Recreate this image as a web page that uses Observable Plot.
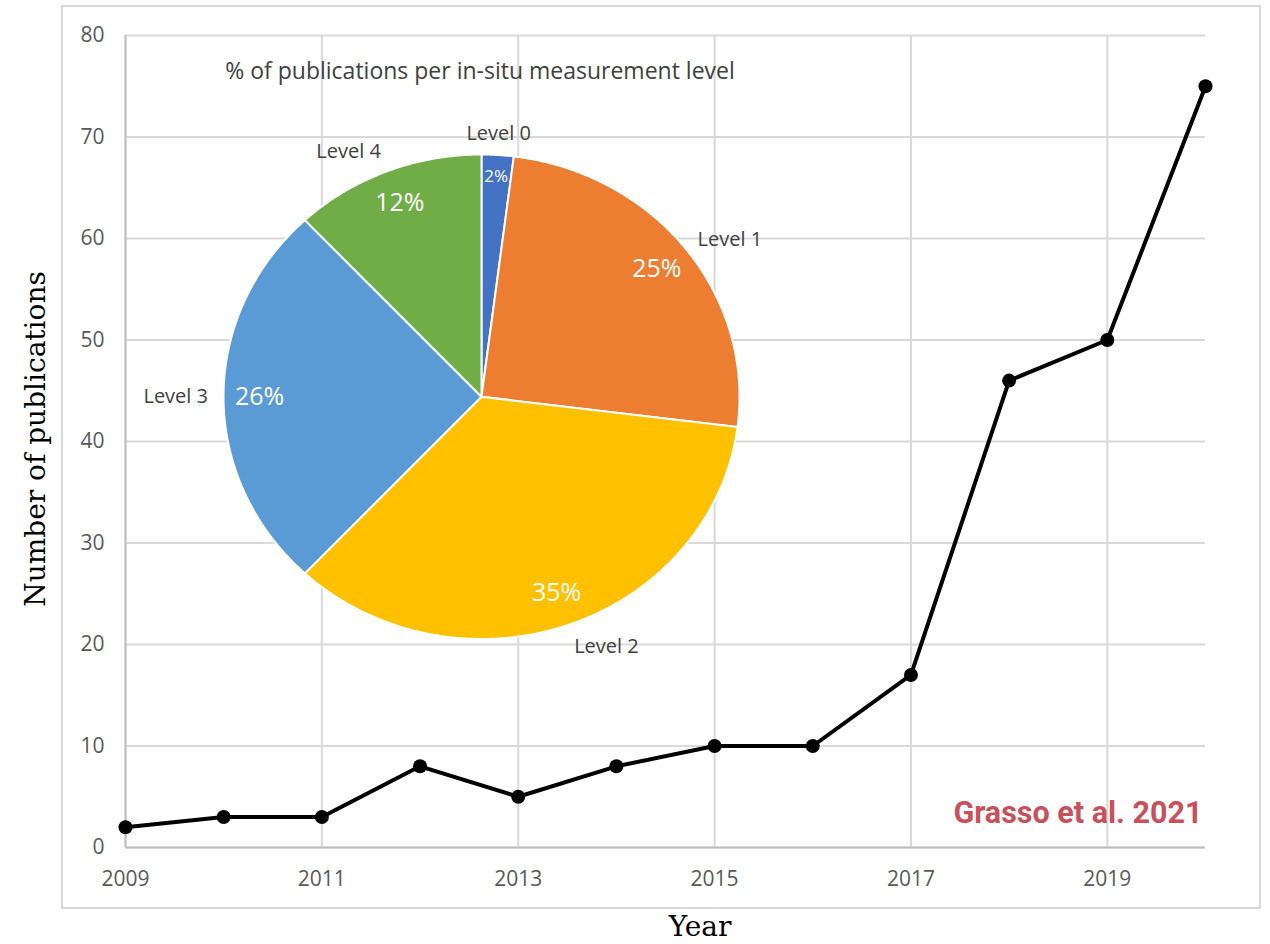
<!DOCTYPE html>
<html><head><meta charset="utf-8">
<script src="https://cdn.jsdelivr.net/npm/d3@7"></script>
<script src="https://cdn.jsdelivr.net/npm/@observablehq/plot@0.6"></script>
<style>
html,body{margin:0;padding:0;background:#fff;}
#wrap{position:relative;width:1270px;height:944px;overflow:hidden;background:#fff;}
#frame{position:absolute;left:61px;top:5px;width:1200px;height:904px;border:2px solid #d9d9d9;box-sizing:border-box;}
#wrap svg{position:absolute;left:0;top:0;}
.lbl{position:absolute;white-space:nowrap;}
#ytitle{left:35px;top:439px;line-height:1;transform:translate(-50%,-50%) rotate(-90deg);font:28px "DejaVu Serif",serif;color:#000;}
#xtitle{left:700px;top:910px;line-height:1;transform:translateX(-50%);font:28px "DejaVu Serif",serif;color:#000;}
#ptitle{left:480px;top:70px;transform:translate(-50%,-50%);font:23px "Open Sans",sans-serif;color:#404040;}
</style></head>
<body><div id="wrap"><div id="frame"></div></div>
<script>
// ---- data ----
const years = [2009, 2010, 2011, 2012, 2013, 2014, 2015, 2016, 2017, 2018, 2019, 2020];
const publications = [2, 3, 3, 8, 5, 8, 10, 10, 17, 46, 50, 75];
const xTicks = [2009, 2011, 2013, 2015, 2017, 2019];
const yTicks = [0, 10, 20, 30, 40, 50, 60, 70, 80];
const levels = ["Level 0", "Level 1", "Level 2", "Level 3", "Level 4"];
const shares = [2, 25, 35, 26, 12];
const levelColors = ["#4472c4", "#ed7d31", "#ffc000", "#5b9bd5", "#70ad47"];
const pieTitle = "% of publications per in-situ measurement level";
const credit = "Grasso et al. 2021";

const wrap = document.getElementById("wrap");
const series = years.map((year, i) => ({year, count: publications[i]}));

const main = Plot.plot({
  width: 1270, height: 944,
  marginLeft: 125, marginRight: 65, marginTop: 35, marginBottom: 97,
  style: {background: "transparent", fontFamily: "Open Sans", fontSize: "21px", color: "#595959", overflow: "visible"},
  x: {type: "linear", domain: [2009, 2020]},
  y: {domain: [0, 80]},
  marks: [
    Plot.gridY(yTicks, {stroke: "#d9d9d9", strokeOpacity: 1, strokeWidth: 2}),
    Plot.gridX(xTicks, {stroke: "#d9d9d9", strokeOpacity: 1, strokeWidth: 2}),
    Plot.ruleX([2009], {stroke: "#bfbfbf", strokeWidth: 2}),
    Plot.ruleY([0], {stroke: "#bfbfbf", strokeWidth: 2}),
    Plot.axisY(yTicks, {tickSize: 0, tickPadding: 21, label: null, fill: "#595959"}),
    Plot.axisX(xTicks, {tickSize: 0, tickPadding: 24, label: null, tickFormat: d => String(d), fill: "#595959"}),
    Plot.line(series, {x: "year", y: "count", stroke: "#000", strokeWidth: 4}),
    Plot.dot(series, {x: "year", y: "count", r: 7, fill: "#000"}),
    Plot.text([credit], {frameAnchor: "bottom-right", text: d => d, textAnchor: "end", lineAnchor: "middle",
      dx: -3, dy: -34, fill: "#c8505b", fontFamily: "Roboto", fontWeight: "bold", fontSize: 30.5})
  ]
});
wrap.appendChild(main);

// ---- pie inset ----
const slices = levels.map((level, i) => ({level, share: shares[i]}));
const arcs = d3.pie().sort(null).value(d => d.share)(slices);
const outline = arcs.flatMap(a => {
  const n = Math.max(2, Math.ceil((a.endAngle - a.startAngle) / 0.01));
  const pts = [{level: a.data.level, x: 0, y: 0}];
  for (let k = 0; k <= n; k++) {
    const t = a.startAngle + (a.endAngle - a.startAngle) * k / n;
    pts.push({level: a.data.level, x: Math.sin(t), y: Math.cos(t)});
  }
  return pts;
});
const pct = arcs.map(a => {
  const m = (a.startAngle + a.endAngle) / 2;
  const small = a.data.share < 5;
  const r = small ? 0.91 : 0.86;
  return {x: r * Math.sin(m), y: r * Math.cos(m), text: a.data.share + "%", small};
});
const names = arcs.map(a => {
  const m = (a.startAngle + a.endAngle) / 2;
  const s = Math.sin(m), c = Math.cos(m), r = 1.06;
  return {x: r * s, y: r * c, text: a.data.level,
    ta: s > 0.3 ? "start" : s < -0.3 ? "end" : "middle",
    la: c > 0.7 ? "bottom" : c < -0.7 ? "top" : "middle"};
});

const pie = Plot.plot({
  width: 1270, height: 944,
  style: {background: "transparent", fontFamily: "Open Sans", overflow: "visible"},
  x: {domain: [-1, 1], range: [223, 739], axis: null},
  y: {domain: [-1, 1], range: [638.5, 154], axis: null},
  color: {domain: levels, range: levelColors},
  marks: [
    Plot.line(outline, {x: "x", y: "y", z: "level", fill: "level", stroke: "#fff", strokeWidth: 2, curve: "linear-closed", strokeLinejoin: "round"}),
    Plot.text(pct, {filter: d => !d.small, x: "x", y: "y", text: "text", fill: "#fff", fontSize: 25}),
    Plot.text(pct, {filter: d => d.small, x: "x", y: "y", text: "text", fill: "#fff", fontSize: 17}),
    ...names.map(d => Plot.text([d], {x: "x", y: "y", text: "text", fill: "#404040", fontSize: 20, textAnchor: d.ta, lineAnchor: d.la}))
  ]
});
wrap.appendChild(pie);

function addLabel(id, txt) {
  const el = document.createElement("div");
  el.className = "lbl"; el.id = id; el.textContent = txt;
  wrap.appendChild(el);
}
addLabel("ptitle", pieTitle);
addLabel("ytitle", "Number of publications");
addLabel("xtitle", "Year");
</script>
</body></html>
